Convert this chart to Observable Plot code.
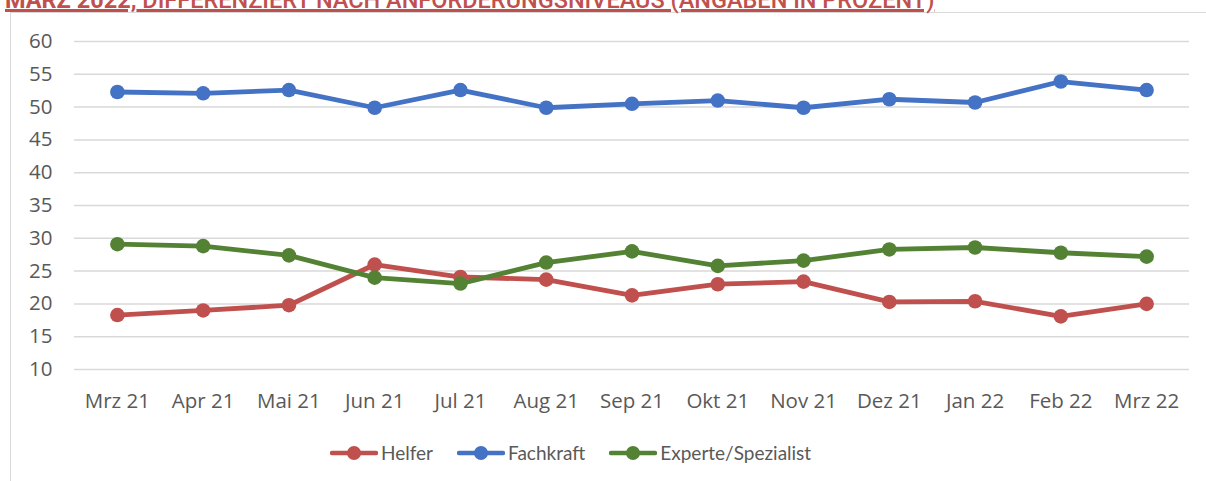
<!DOCTYPE html>
<html>
<head>
<meta charset="utf-8">
<script src="https://cdn.jsdelivr.net/npm/d3@7"></script>
<script src="https://cdn.jsdelivr.net/npm/@observablehq/plot@0.6"></script>
<style>
  html, body { margin: 0; padding: 0; background: #fff; overflow: hidden; }
  #page { position: relative; width: 1206px; height: 481px; overflow: hidden; font-family: Lato, "Noto Sans", sans-serif; }
  #frame { position: absolute; left: 10px; top: 12px; width: 1300px; height: 600px; border: 1.5px solid #d9d9d9; box-sizing: border-box; }
  #title { position: absolute; left: 5px; top: -11px; font-family: Roboto, sans-serif; font-size: 23.5px; line-height: 22px; color: #C0504D; white-space: nowrap; text-decoration: underline; text-decoration-thickness: 3px; text-underline-offset: 1px; }
  #title b { font-weight: 700; }
  #title span { font-weight: 500; }
  #chart { position: absolute; left: 0; top: 0; }
  #legend { position: absolute; left: 330px; top: 441px; display: flex; align-items: center; font-size: 19px; color: #595959; }
  .item { display: flex; align-items: center; margin-right: 24px; }
  .item svg { margin-right: 3px; }
</style>
</head>
<body>
<div id="page">
  <div id="frame"></div>
  <div id="title"><b>MÄRZ 2022,</b><span> DIFFERENZIERT NACH ANFORDERUNGSNIVEAUS (ANGABEN IN PROZENT)</span></div>
  <div id="chart"></div>
  <div id="legend"></div>
</div>
<script>
const months = ["Mrz 21","Apr 21","Mai 21","Jun 21","Jul 21","Aug 21","Sep 21","Okt 21","Nov 21","Dez 21","Jan 22","Feb 22","Mrz 22"];
const seriesNames = ["Helfer", "Fachkraft", "Experte/Spezialist"];
const helfer    = [18.3, 19.0, 19.8, 26.0, 24.1, 23.7, 21.3, 23.0, 23.4, 20.3, 20.4, 18.1, 20.0];
const fachkraft = [52.3, 52.1, 52.6, 49.9, 52.6, 49.9, 50.5, 51.0, 49.9, 51.2, 50.7, 53.9, 52.6];
const experte   = [29.1, 28.8, 27.4, 24.0, 23.1, 26.3, 28.0, 25.8, 26.6, 28.3, 28.6, 27.8, 27.2];
const colors = ["#C0504D", "#4472C4", "#548235"];
const yTicks = [10, 15, 20, 25, 30, 35, 40, 45, 50, 55, 60];

const valuesBySeries = [helfer, fachkraft, experte];
const data = [];
seriesNames.forEach((s, i) => months.forEach((m, j) => data.push({series: s, month: m, value: valuesBySeries[i][j]})));

const tickFont = "'Open Sans', Lato, sans-serif";
const marks = [
  Plot.ruleY(yTicks, {stroke: "#d9d9d9", strokeWidth: 1.5}),
  Plot.axisY({ticks: yTicks, tickSize: 0, tickPadding: 22, fontSize: 20.5, fontFamily: tickFont, color: "#595959", label: null}),
  Plot.axisX({tickSize: 0, tickPadding: 24, fontSize: 20.5, fontFamily: tickFont, color: "#595959", label: null})
];
seriesNames.forEach((s, i) => {
  const d = data.filter(r => r.series === s);
  marks.push(Plot.line(d, {x: "month", y: "value", stroke: colors[i], strokeWidth: 4.8, strokeLinejoin: "round", strokeLinecap: "round"}));
  marks.push(Plot.dot(d, {x: "month", y: "value", fill: colors[i], r: 7.3}));
});

const chart = Plot.plot({
  width: 1206,
  height: 420,
  marginTop: 41,
  marginBottom: 51,
  marginLeft: 74,
  marginRight: 17,
  style: {fontFamily: tickFont, background: "transparent"},
  x: {type: "point", domain: months, padding: 0.5, round: false},
  y: {domain: [10, 60]},
  marks
});
document.getElementById("chart").appendChild(chart);

const legend = document.getElementById("legend");
seriesNames.forEach((s, i) => {
  const item = document.createElement("div");
  item.className = "item";
  item.innerHTML = `<svg width="48" height="18"><line x1="2" y1="9" x2="46" y2="9" stroke="${colors[i]}" stroke-width="4.5" stroke-linecap="round"/><circle cx="24" cy="9" r="7" fill="${colors[i]}"/></svg><span>${s}</span>`;
  legend.appendChild(item);
});
</script>
</body>
</html>
